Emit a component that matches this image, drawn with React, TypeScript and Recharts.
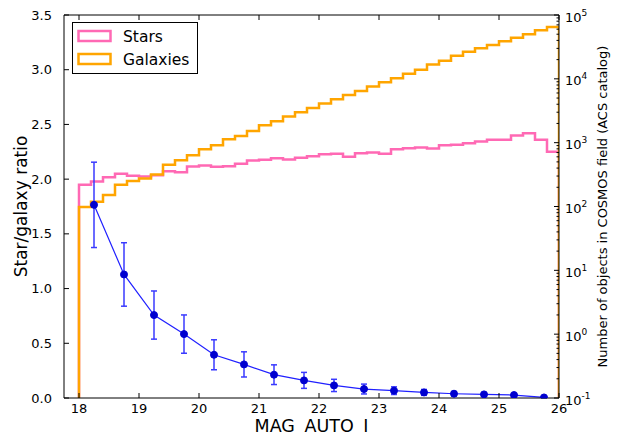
import { ComposedChart, Line, XAxis, YAxis, ErrorBar, Legend } from 'recharts';

// histogram bins (left edges, width 0.2 mag)
const binStarts = [
  18.0, 18.2, 18.4, 18.6, 18.8, 19.0, 19.2, 19.4, 19.6, 19.8,
  20.0, 20.2, 20.4, 20.6, 20.8, 21.0, 21.2, 21.4, 21.6, 21.8,
  22.0, 22.2, 22.4, 22.6, 22.8, 23.0, 23.2, 23.4, 23.6, 23.8,
  24.0, 24.2, 24.4, 24.6, 24.8, 25.0, 25.2, 25.4, 25.6, 25.8,
];
const binEnd = 26.0;

const starCounts = [
  219, 246, 288, 325, 302, 295, 310, 358, 343, 423,
  438, 418, 429, 466, 525, 538, 572, 544, 578, 611,
  661, 668, 600, 685, 700, 668, 791, 820, 838, 809,
  914, 924, 982, 1040, 1106, 1106, 1291, 1409, 1114, 718,
];

const galaxyCounts = [
  98, 119, 152, 219, 252, 274, 317, 450, 532, 633,
  791, 914, 1135, 1277, 1530, 1879, 2170, 2561, 3000, 3505,
  4093, 4794, 5600, 6470, 7550, 8850, 10200, 12060, 13930, 16800,
  19200, 23070, 26650, 30100, 33950, 38750, 44150, 49900, 57650, 64900,
];

// star/galaxy ratio in 0.5 mag bins
const ratioMags = [18.25, 18.75, 19.25, 19.75, 20.25, 20.75, 21.25, 21.75, 22.25, 22.75, 23.25, 23.75, 24.25, 24.75, 25.25, 25.75];
const ratioValues = [1.765, 1.129, 0.758, 0.584, 0.395, 0.307, 0.213, 0.161, 0.115, 0.082, 0.067, 0.051, 0.039, 0.033, 0.027, 0.005];
const ratioErrors = [0.39, 0.29, 0.22, 0.175, 0.137, 0.115, 0.09, 0.073, 0.056, 0.045, 0.035, 0.027, 0.02, 0.016, 0.012, 0.006];

const xTicks = [18, 19, 20, 21, 22, 23, 24, 25, 26];
const ratioTicks = [0, 0.5, 1, 1.5, 2, 2.5, 3, 3.5];
const countDecades = [-1, 0, 1, 2, 3, 4, 5];

const COUNT_FLOOR = 0.1;
const FONT = '"DejaVu Sans", sans-serif';

const countTicks: number[] = [];
countDecades.forEach((d) => {
  countTicks.push(Math.pow(10, d));
  if (d < 5) {
    for (let k = 2; k <= 9; k++) countTicks.push(k * Math.pow(10, d));
  }
});

const lastStar = starCounts[starCounts.length - 1];
const lastGalaxy = galaxyCounts[galaxyCounts.length - 1];
const histData = [
  { x: binStarts[0], stars: COUNT_FLOOR, galaxies: COUNT_FLOOR },
  ...binStarts.map((x, i) => ({ x, stars: starCounts[i], galaxies: galaxyCounts[i] })),
  { x: binEnd, stars: lastStar, galaxies: lastGalaxy },
  { x: binEnd, stars: COUNT_FLOOR, galaxies: COUNT_FLOOR },
];

const ratioData = ratioMags.map((x, i) => ({ x, ratio: ratioValues[i], err: ratioErrors[i] }));

const BottomTick = (props: any) => {
  const { x, y, payload } = props;
  return (
    <g>
      <line x1={x} x2={x} y1={y} y2={y - 5} stroke="#000" />
      <text x={x} y={y + 14.5} textAnchor="middle" fontSize={13} fill="#000">
        {payload.value}
      </text>
    </g>
  );
};

const TopTick = (props: any) => {
  const { x, y } = props;
  return <line x1={x} x2={x} y1={y} y2={y + 5} stroke="#000" />;
};

const LeftTick = (props: any) => {
  const { x, y, payload } = props;
  return (
    <g>
      <line x1={x} x2={x + 5} y1={y} y2={y} stroke="#000" />
      <text x={x - 12} y={y + 4.5} textAnchor="end" fontSize={13} fill="#000">
        {Number(payload.value).toFixed(1)}
      </text>
    </g>
  );
};

const RightTick = (props: any) => {
  const { x, y, payload } = props;
  const exp = Math.log10(payload.value);
  const major = Math.abs(exp - Math.round(exp)) < 1e-6;
  if (!major) {
    return <line x1={x} x2={x - 2.5} y1={y} y2={y} stroke="#000" />;
  }
  return (
    <g>
      <line x1={x} x2={x - 5} y1={y} y2={y} stroke="#000" />
      <text x={x + 6} y={y + 6.5} fontSize={13} fill="#000">
        10
        <tspan dy={-6} fontSize={9}>
          {Math.round(exp)}
        </tspan>
      </text>
    </g>
  );
};

const LegendBox = () => (
  <div style={{ border: '1px solid #000', background: '#fff', width: 126, height: 52, boxSizing: 'border-box' }}>
    <svg width={124} height={50} style={{ display: 'block' }}>
      <rect x={5.5} y={8} width={32} height={10} fill="none" stroke="#ff69b4" strokeWidth={2.5} />
      <text x={50} y={18.5} fontSize={15.5} fill="#000">Stars</text>
      <rect x={5.5} y={31} width={32} height={10} fill="none" stroke="#ffa500" strokeWidth={2.5} />
      <text x={50} y={41.5} fontSize={15.5} fill="#000">Galaxies</text>
    </svg>
  </div>
);

export default function App() {
  return (
    <div style={{ width: 619, height: 436, fontFamily: FONT, background: '#fff' }}>
      <style>{'body { margin: 0; }'}</style>
      <ComposedChart width={619} height={436} margin={{ top: 0, right: 0, bottom: 0, left: 0 }}>
        <XAxis
          dataKey="x"
          type="number"
          domain={[17.75, 26]}
          allowDataOverflow
          ticks={xTicks}
          interval={0}
          height={38}
          tickSize={0}
          tickMargin={0}
          tickLine={false}
          axisLine={{ stroke: '#000' }}
          tick={<BottomTick />}
          label={({ viewBox }: any) => (
            <text
              x={viewBox.x + viewBox.width / 2}
              y={viewBox.y + 34}
              textAnchor="middle"
              fontSize={17.5}
              wordSpacing={4}
              fill="#000"
            >
              MAG AUTO I
            </text>
          )}
        />
        <XAxis
          xAxisId="top"
          dataKey="x"
          type="number"
          orientation="top"
          domain={[17.75, 26]}
          allowDataOverflow
          ticks={xTicks}
          interval={0}
          height={15}
          tickSize={0}
          tickMargin={0}
          tickLine={false}
          axisLine={{ stroke: '#000' }}
          tick={<TopTick />}
        />
        <YAxis
          yAxisId="left"
          type="number"
          domain={[0, 3.5]}
          allowDataOverflow
          ticks={ratioTicks}
          interval={0}
          width={64}
          tickSize={0}
          tickMargin={0}
          tickLine={false}
          axisLine={{ stroke: '#000' }}
          tick={<LeftTick />}
          label={({ viewBox }: any) => (
            <text
              x={viewBox.x + 27}
              y={viewBox.y + viewBox.height / 2}
              transform={`rotate(-90, ${viewBox.x + 27}, ${viewBox.y + viewBox.height / 2})`}
              textAnchor="middle"
              fontSize={17}
              fill="#000"
            >
              Star/galaxy ratio
            </text>
          )}
        />
        <YAxis
          yAxisId="right"
          orientation="right"
          type="number"
          scale="log"
          domain={[0.1, 100000]}
          allowDataOverflow
          ticks={countTicks}
          interval={0}
          width={60}
          tickSize={0}
          tickMargin={0}
          tickLine={false}
          axisLine={{ stroke: '#000' }}
          tick={<RightTick />}
          label={({ viewBox }: any) => (
            <text
              x={viewBox.x + 48}
              y={viewBox.y + viewBox.height / 2}
              transform={`rotate(-90, ${viewBox.x + 48}, ${viewBox.y + viewBox.height / 2})`}
              textAnchor="middle"
              fontSize={13}
              fill="#000"
            >
              Number of objects in COSMOS field (ACS catalog)
            </text>
          )}
        />
        <Legend
          layout="horizontal"
          verticalAlign="middle"
          align="center"
          wrapperStyle={{ left: 72, top: 22, width: 126, height: 52 }}
          content={() => <LegendBox />}
        />
        <Line
          yAxisId="right"
          data={histData}
          dataKey="stars"
          name="Stars"
          type="stepAfter"
          stroke="#ff69b4"
          strokeWidth={2.5}
          dot={false}
          activeDot={false}
          isAnimationActive={false}
        />
        <Line
          yAxisId="right"
          data={histData}
          dataKey="galaxies"
          name="Galaxies"
          type="stepAfter"
          stroke="#ffa500"
          strokeWidth={2.5}
          dot={false}
          activeDot={false}
          isAnimationActive={false}
        />
        <Line
          yAxisId="left"
          data={ratioData}
          dataKey="ratio"
          type="linear"
          stroke="#2020ff"
          strokeWidth={1.2}
          dot={{ r: 3.5, fill: '#0000d0', stroke: '#0000d0', strokeWidth: 1 }}
          activeDot={false}
          isAnimationActive={false}
          legendType="none"
        >
          <ErrorBar dataKey="err" width={3} stroke="#3a3aff" strokeWidth={1.5} direction="y" />
        </Line>
      </ComposedChart>
    </div>
  );
}
